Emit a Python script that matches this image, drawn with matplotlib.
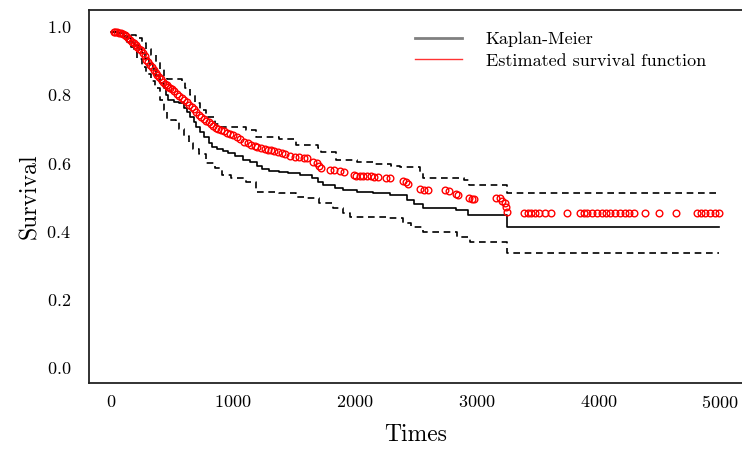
import matplotlib
matplotlib.use('Agg')
import matplotlib.pyplot as plt
from matplotlib.lines import Line2D

plt.rcParams['font.family'] = ['cmr10', 'DejaVu Serif']
plt.rcParams['axes.formatter.use_mathtext'] = True

# Kaplan-Meier estimate (step, post)
km_t = [0, 60, 100, 130, 160, 190, 220, 250, 280, 310, 340, 370, 400, 430, 450,
        470, 520, 560, 600, 620, 650, 680, 700, 730, 760, 800, 830, 870, 920,
        960, 1020, 1080, 1140, 1200, 1240, 1300, 1380, 1450, 1550, 1650, 1700,
        1740, 1840, 1900, 2020, 2150, 2290, 2430, 2490, 2560, 2830, 2930, 3250,
        4995]
km_s = [0.985, 0.98, 0.972, 0.965, 0.955, 0.945, 0.935, 0.922, 0.905, 0.89,
        0.875, 0.855, 0.835, 0.82, 0.80, 0.785, 0.78, 0.775, 0.76, 0.748, 0.735,
        0.72, 0.705, 0.69, 0.675, 0.66, 0.648, 0.64, 0.635, 0.63, 0.62, 0.61,
        0.602, 0.59, 0.582, 0.578, 0.575, 0.57, 0.566, 0.555, 0.545, 0.537,
        0.528, 0.522, 0.516, 0.512, 0.507, 0.493, 0.48, 0.469, 0.463, 0.449,
        0.414, 0.414]

# upper confidence band
up_t = [0, 100, 160, 200, 250, 290, 330, 370, 400, 430, 455, 580, 610, 650, 690,
        730, 780, 850, 900, 1110, 1190, 1380, 1520, 1700, 1720, 1850, 2020, 2170,
        2300, 2370, 2540, 2560, 2900, 2935, 3250, 4995]
up_s = [0.985, 0.98, 0.975, 0.965, 0.952, 0.935, 0.915, 0.895, 0.875, 0.855,
        0.845, 0.84, 0.82, 0.80, 0.775, 0.755, 0.735, 0.715, 0.705, 0.698, 0.677,
        0.669, 0.654, 0.645, 0.632, 0.61, 0.604, 0.598, 0.592, 0.587, 0.575,
        0.557, 0.551, 0.537, 0.513, 0.513]

# lower confidence band
lo_t = [0, 100, 130, 160, 190, 215, 250, 290, 330, 360, 400, 430, 455, 530, 560,
        600, 640, 670, 720, 780, 850, 910, 980, 1110, 1190, 1380, 1520, 1600,
        1710, 1820, 1900, 1960, 2270, 2400, 2460, 2560, 2840, 2950, 3250, 4995]
lo_s = [0.985, 0.96, 0.953, 0.94, 0.925, 0.905, 0.88, 0.86, 0.84, 0.82, 0.785,
        0.755, 0.727, 0.721, 0.70, 0.68, 0.66, 0.64, 0.625, 0.60, 0.585, 0.566,
        0.555, 0.545, 0.516, 0.513, 0.501, 0.497, 0.484, 0.469, 0.455, 0.443,
        0.44, 0.425, 0.413, 0.399, 0.384, 0.37, 0.337, 0.337]

# estimated survival function at observed times
est_t = [20, 35, 50, 65, 80, 95, 110, 125, 140, 155, 170, 185, 200, 215, 230,
         245, 260, 275, 290, 305, 320, 335, 350, 365, 380, 395, 410, 425, 440,
         455, 470, 485, 500, 520, 540, 560, 580, 600, 620, 640, 660, 680, 700,
         720, 740, 760, 780, 800, 820, 840, 860, 880, 900, 925, 950, 975, 1000,
         1030, 1060, 1090, 1120, 1150, 1180, 1200, 1230, 1260, 1290, 1310, 1340,
         1370, 1400, 1430, 1470, 1510, 1540, 1580, 1610, 1660, 1690, 1710, 1720,
         1800, 1830, 1880, 1910, 1990, 2010, 2040, 2070, 2100, 2130, 2160, 2190,
         2260, 2290, 2400, 2420, 2440, 2540, 2570, 2600, 2740, 2770, 2830, 2850,
         2940, 2960, 2980, 3160, 3190, 3210, 3230, 3245, 3250, 3390, 3420, 3450,
         3480, 3510, 3560, 3610, 3740, 3850, 3880, 3910, 3950, 3990, 4030, 4060,
         4100, 4140, 4180, 4220, 4250, 4290, 4380, 4500, 4640, 4810, 4840, 4880,
         4920, 4960, 4995]
est_s = [0.985, 0.984, 0.984, 0.982, 0.980, 0.978, 0.975, 0.971, 0.966, 0.960,
         0.955, 0.950, 0.945, 0.940, 0.935, 0.930, 0.922, 0.913, 0.903, 0.895,
         0.887, 0.880, 0.872, 0.865, 0.858, 0.852, 0.845, 0.838, 0.832, 0.828,
         0.824, 0.820, 0.816, 0.810, 0.803, 0.797, 0.790, 0.785, 0.778, 0.770,
         0.763, 0.757, 0.750, 0.742, 0.735, 0.729, 0.724, 0.719, 0.714, 0.709,
         0.704, 0.700, 0.697, 0.693, 0.689, 0.685, 0.682, 0.676, 0.669, 0.663,
         0.658, 0.653, 0.650, 0.647, 0.643, 0.641, 0.639, 0.638, 0.635, 0.632,
         0.629, 0.626, 0.622, 0.619, 0.617, 0.615, 0.614, 0.604, 0.600, 0.590,
         0.586, 0.581, 0.579, 0.576, 0.574, 0.564, 0.562, 0.562, 0.562, 0.561,
         0.561, 0.560, 0.559, 0.556, 0.555, 0.546, 0.543, 0.538, 0.524, 0.522,
         0.521, 0.520, 0.518, 0.509, 0.506, 0.497, 0.496, 0.495, 0.499, 0.497,
         0.490, 0.483, 0.470, 0.457, 0.455, 0.455, 0.455, 0.455, 0.455, 0.455,
         0.455, 0.455, 0.455, 0.455, 0.455, 0.455, 0.455, 0.455, 0.455, 0.455,
         0.455, 0.455, 0.455, 0.455, 0.455, 0.455, 0.455, 0.455, 0.455, 0.455,
         0.455, 0.455, 0.455, 0.455]

fig = plt.figure(figsize=(7.42, 4.51), dpi=100)
ax = fig.add_axes([89 / 742, 68 / 451, 653 / 742, 373 / 451])

ax.step(km_t, km_s, where='post', color='k', lw=1.2)
ax.step(up_t, up_s, where='post', color='k', lw=1.2, ls=(0, (4, 2.8)))
ax.step(lo_t, lo_s, where='post', color='k', lw=1.2, ls=(0, (4, 2.8)))
ax.plot(est_t, est_s, 'o', mfc='none', mec='red', ms=4.8, mew=1.0)

ax.set_xlim(-182, 5180)
ax.set_ylim(-0.044, 1.048)
ax.set_xticks([0, 1000, 2000, 3000, 4000, 5000])
ax.set_yticks([0.0, 0.2, 0.4, 0.6, 0.8, 1.0])
ax.tick_params(axis='both', length=0, labelsize=13)
ax.tick_params(axis='x', pad=8)
ax.tick_params(axis='y', pad=13)
ax.spines['right'].set_visible(False)
for s in ['left', 'top', 'bottom']:
    ax.spines[s].set_linewidth(1.3)
    ax.spines[s].set_color('#222222')

ax.set_xlabel('Times', fontsize=17, labelpad=9)
ax.set_ylabel('Survival', fontsize=17, labelpad=4)

handles = [Line2D([], [], color='gray', lw=2),
           Line2D([], [], color='red', lw=1, alpha=0.8)]
ax.legend(handles, ['Kaplan-Meier', 'Estimated survival function'],
          loc='upper right', bbox_to_anchor=(0.97, 0.985), frameon=False,
          fontsize=13, handlelength=2.6, handletextpad=1.3, labelspacing=0.3)

plt.savefig('out.png')
